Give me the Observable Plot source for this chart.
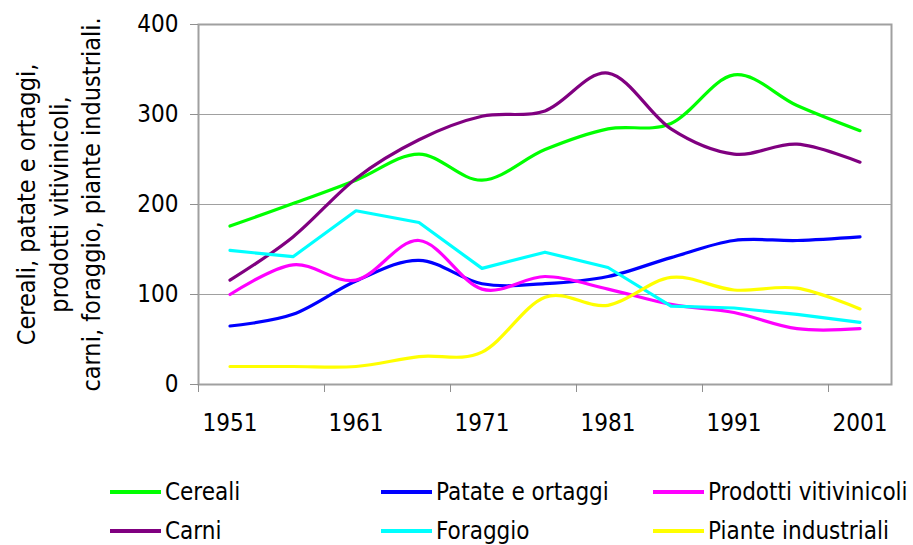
<!DOCTYPE html>
<html>
<head>
<meta charset="utf-8">
<script src="https://cdn.jsdelivr.net/npm/d3@7"></script>
<script src="https://cdn.jsdelivr.net/npm/@observablehq/plot@0.6"></script>
<style>
  body { margin: 0; background: #fff; font-family: "DejaVu Sans Condensed", "DejaVu Sans", sans-serif; }
  #wrap { position: relative; width: 913px; height: 545px; overflow: hidden; }
  #legend { position: absolute; left: 0; top: 0; width: 913px; height: 545px; pointer-events: none; }
  .item { position: absolute; display: flex; align-items: center; font-size: 24px; color: #000; white-space: nowrap; }
  .sw { width: 51px; height: 4px; margin-right: 4px; }
</style>
</head>
<body>
<div id="wrap"><div id="chart"></div><div id="legend"></div></div>
<script>
const years = [1951, 1956, 1961, 1966, 1971, 1976, 1981, 1986, 1991, 1996, 2001];
const cereali  = [176, 201, 227, 256, 227, 261, 284, 290, 344, 310, 282];
const carni    = [116, 164, 229, 272, 298, 304, 346, 284, 256, 267, 247];
const patate   = [65, 78, 115, 138, 112, 112, 120, 141, 160, 160, 164];
const prodotti = [100, 133, 116, 160, 106, 120, 106, 89, 80, 62, 62];
const foraggio = [149, 142, 193, 180, 129, 147, 130, 87, 85, 78, 69];
const piante   = [20, 20, 20, 31, 36, 97, 88, 119, 105, 107, 84];

const yTicks = [0, 100, 200, 300, 400];
const xLabelYears = [1951, 1961, 1971, 1981, 1991, 2001];
const xTickBounds = [1948.5, 1958.5, 1968.5, 1978.5, 1988.5, 1998.5];
const yLabel = "Cereali, patate e ortaggi,\nprodotti vitivinicoli,\ncarni, foraggio, piante industriali.";

const series = [
  {name: "Cereali", values: cereali, color: "#00FF00", smooth: true},
  {name: "Patate e ortaggi", values: patate, color: "#0000FF", smooth: true},
  {name: "Prodotti vitivinicoli", values: prodotti, color: "#FF00FF", smooth: true},
  {name: "Carni", values: carni, color: "#800080", smooth: true},
  {name: "Foraggio", values: foraggio, color: "#00FFFF", smooth: false},
  {name: "Piante industriali", values: piante, color: "#FFFF00", smooth: true}
];

const lineMarks = series.map(s => {
  const rows = years.map((yr, i) => ({year: yr, value: s.values[i]}));
  return Plot.line(rows, {
    x: "year", y: "value", stroke: s.color, strokeWidth: 3.2,
    curve: s.smooth ? "cardinal" : "linear", tension: s.smooth ? 0 : undefined
  });
});

const plot = Plot.plot({
  width: 913,
  height: 440,
  marginLeft: 198,
  marginRight: 22,
  marginTop: 24,
  marginBottom: 56,
  style: {fontFamily: '"DejaVu Sans Condensed", "DejaVu Sans", sans-serif', fontSize: "24px", color: "#000", background: "#fff"},
  x: {domain: [1948.5, 2003.5]},
  y: {domain: [0, 400]},
  marks: [
    Plot.gridY([100, 200, 300], {stroke: "#a0a0a0", strokeOpacity: 1, strokeWidth: 1.2}),
    Plot.frame({stroke: "#a0a0a0", strokeWidth: 2}),
    Plot.axisY(yTicks, {tickSize: 8, tickPadding: 12, stroke: "#909090", fontSize: 24, label: null}),
    Plot.axisX(xTickBounds, {tickSize: 8, tickFormat: () => "", stroke: "#909090", label: null}),
    Plot.axisX(xLabelYears, {tickSize: 0, tickPadding: 29, fontSize: 24, tickFormat: d => String(d), label: null}),
    Plot.text([yLabel], {frameAnchor: "left", dx: -141, rotate: -90, fontSize: 25, lineHeight: 1.3, textAnchor: "middle", fill: "#000"}),
    ...lineMarks
  ]
});
document.getElementById("chart").appendChild(plot);

const legend = document.getElementById("legend");
const colX = [110, 381, 653];
const rowY = [492, 531];
series.forEach((s, i) => {
  const col = i % 3, row = Math.floor(i / 3);
  const div = document.createElement("div");
  div.className = "item";
  div.style.left = colX[col] + "px";
  div.style.top = (rowY[row] - 16) + "px";
  div.style.height = "32px";
  const sw = document.createElement("span");
  sw.className = "sw";
  sw.style.background = s.color;
  const t = document.createElement("span");
  t.textContent = s.name;
  div.appendChild(sw);
  div.appendChild(t);
  legend.appendChild(div);
});
</script>
</body>
</html>
